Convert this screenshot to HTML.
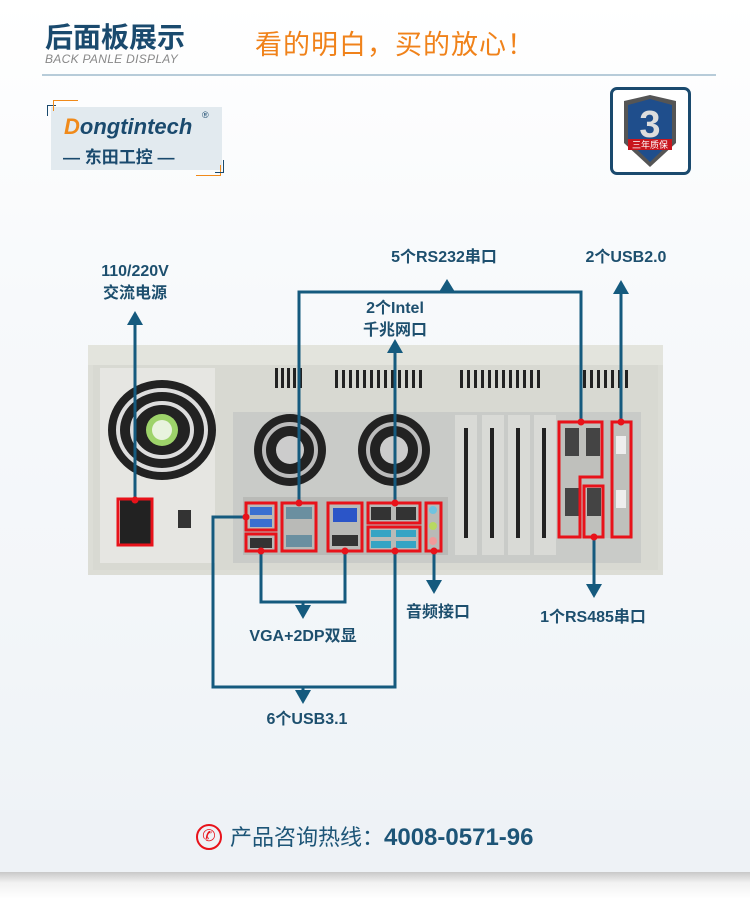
<!DOCTYPE html>
<html><head><meta charset="utf-8"><style>
html,body{margin:0;padding:0;}
body{width:750px;height:899px;position:relative;overflow:hidden;background:linear-gradient(#ffffff 0,#f7f9fb 300px,#f3f6f9 600px,#eef2f6 870px);font-family:"Liberation Sans","Noto Sans CJK SC",sans-serif;}
.a{position:absolute;}
.lbl{position:absolute;color:#1d4f6e;font-weight:bold;font-size:16px;line-height:22px;text-align:center;white-space:nowrap;}
</style></head><body>
<div class="a" style="left:45px;top:16px;font-size:28px;font-weight:bold;color:#1a4a6e;">后面板展示</div>
<div class="a" style="left:45px;top:52px;font-size:12px;font-style:italic;color:#888;letter-spacing:0.3px;">BACK PANLE DISPLAY</div>
<div class="a" style="left:255px;top:23px;font-size:27px;color:#f0821a;letter-spacing:1px;">看的明白，买的放心！</div>
<div class="a" style="left:42px;top:74px;width:674px;height:2px;background:#b7ccd9;"></div>

<!-- logo -->
<div class="a" style="left:51px;top:107px;width:171px;height:63px;background:#e2eaef;"></div>
<div class="a" style="left:47px;top:105px;width:8px;height:10px;border-left:1px solid #1a4a6e;border-top:1px solid #1a4a6e;"></div>
<div class="a" style="left:53px;top:100px;width:24px;height:10px;border-left:1px solid #f08a1a;border-top:1px solid #f08a1a;"></div>
<div class="a" style="left:196px;top:165px;width:24px;height:10px;border-right:1px solid #f08a1a;border-bottom:1px solid #f08a1a;"></div>
<div class="a" style="left:215px;top:160px;width:8px;height:12px;border-right:1px solid #1a4a6e;border-bottom:1px solid #1a4a6e;"></div>
<div class="a" style="left:64px;top:114px;font-size:22px;font-weight:bold;font-style:italic;color:#1a4a6e;"><span style="color:#f08a1a">D</span>ongtintech</div>
<div class="a" style="left:202px;top:110px;font-size:9px;color:#1a4a6e;">®</div>
<div class="a" style="left:63px;top:143px;font-size:17px;font-weight:bold;color:#1a4a6e;">— 东田工控 —</div>

<!-- badge -->
<div class="a" style="left:610px;top:87px;width:75px;height:82px;border:3px solid #1a4a6e;border-radius:7px;background:#fff;"></div>
<svg class="a" style="left:610px;top:87px" width="81" height="88">
<path d="M14 14 L40 8 L66 14 L66 56 L40 80 L14 56 Z" fill="#555"/>
<path d="M18 18 L40 12 L62 18 L62 54 L40 75 L18 54 Z" fill="#1f4e8c"/>
<text x="40" y="50" font-size="38" font-weight="bold" fill="#ddd" text-anchor="middle" font-family="Liberation Sans">3</text>
<rect x="18" y="52" width="44" height="11" fill="#c8161d"/>
<text x="40" y="61" font-size="9" fill="#fff" text-anchor="middle" font-family="Noto Sans CJK SC">三年质保</text>
</svg>

<!-- chassis -->
<svg class="a" style="left:0;top:0" width="750" height="899">
<rect x="88" y="345" width="575" height="230" fill="#dcddd6"/>
<rect x="88" y="345" width="575" height="20" fill="#e3e4dd"/>
<rect x="93" y="365" width="565" height="205" fill="#d8d9d2"/>
<!-- psu -->
<rect x="100" y="368" width="115" height="195" fill="#e6e6e2"/>
<ellipse cx="162" cy="430" rx="54" ry="50" fill="#222"/>
<ellipse cx="162" cy="430" rx="44" ry="40" fill="none" stroke="#ddd" stroke-width="4"/>
<ellipse cx="162" cy="430" rx="30" ry="27" fill="none" stroke="#ddd" stroke-width="4"/>
<circle cx="162" cy="430" r="16" fill="#9dd36a"/>
<circle cx="162" cy="430" r="10" fill="#e8f3de"/>
<rect x="120" y="500" width="32" height="44" fill="#222"/>
<rect x="178" y="510" width="13" height="18" fill="#333"/>
<!-- top vents -->
<g fill="#222">
<rect x="275" y="368" width="3" height="20"/><rect x="281" y="368" width="3" height="20"/><rect x="287" y="368" width="3" height="20"/><rect x="293" y="368" width="3" height="20"/><rect x="299" y="368" width="3" height="20"/>
<rect x="335" y="370" width="3" height="18"/><rect x="342" y="370" width="3" height="18"/><rect x="349" y="370" width="3" height="18"/><rect x="356" y="370" width="3" height="18"/><rect x="363" y="370" width="3" height="18"/><rect x="370" y="370" width="3" height="18"/><rect x="377" y="370" width="3" height="18"/><rect x="384" y="370" width="3" height="18"/><rect x="391" y="370" width="3" height="18"/><rect x="398" y="370" width="3" height="18"/><rect x="405" y="370" width="3" height="18"/><rect x="412" y="370" width="3" height="18"/><rect x="419" y="370" width="3" height="18"/>
<rect x="460" y="370" width="3" height="18"/><rect x="467" y="370" width="3" height="18"/><rect x="474" y="370" width="3" height="18"/><rect x="481" y="370" width="3" height="18"/><rect x="488" y="370" width="3" height="18"/><rect x="495" y="370" width="3" height="18"/><rect x="502" y="370" width="3" height="18"/><rect x="509" y="370" width="3" height="18"/><rect x="516" y="370" width="3" height="18"/><rect x="523" y="370" width="3" height="18"/><rect x="530" y="370" width="3" height="18"/><rect x="537" y="370" width="3" height="18"/>
<rect x="583" y="370" width="3" height="18"/><rect x="590" y="370" width="3" height="18"/><rect x="597" y="370" width="3" height="18"/><rect x="604" y="370" width="3" height="18"/><rect x="611" y="370" width="3" height="18"/><rect x="618" y="370" width="3" height="18"/><rect x="625" y="370" width="3" height="18"/>
</g>
<!-- inner panel -->
<rect x="233" y="412" width="408" height="151" fill="#c9cbc8"/>
<circle cx="290" cy="450" r="36" fill="#222"/><circle cx="290" cy="450" r="26" fill="none" stroke="#bbb" stroke-width="4"/><circle cx="290" cy="450" r="14" fill="#ccc"/>
<circle cx="394" cy="450" r="36" fill="#222"/><circle cx="394" cy="450" r="26" fill="none" stroke="#bbb" stroke-width="4"/><circle cx="394" cy="450" r="14" fill="#ccc"/>
<rect x="243" y="497" width="205" height="58" fill="#b9bab7"/>
<g fill="#d9dad6"><rect x="455" y="415" width="22" height="140"/><rect x="482" y="415" width="22" height="140"/><rect x="508" y="415" width="22" height="140"/><rect x="534" y="415" width="22" height="140"/></g>
<g fill="#222"><rect x="464" y="428" width="4" height="110"/><rect x="490" y="428" width="4" height="110"/><rect x="516" y="428" width="4" height="110"/><rect x="542" y="428" width="4" height="110"/></g>
<rect x="558" y="420" width="75" height="118" fill="#bfc0bc"/>
<!-- ports -->
<rect x="250" y="507" width="22" height="8" fill="#3a6fd0"/><rect x="250" y="519" width="22" height="8" fill="#3a6fd0"/>
<rect x="250" y="538" width="22" height="10" fill="#333"/>
<rect x="286" y="507" width="26" height="12" fill="#6a8fa0"/><rect x="286" y="535" width="26" height="12" fill="#6a8fa0"/>
<rect x="333" y="508" width="24" height="14" fill="#2b55c8"/><rect x="332" y="535" width="26" height="11" fill="#333"/>
<rect x="371" y="507" width="20" height="13" fill="#333"/><rect x="396" y="507" width="20" height="13" fill="#333"/>
<rect x="371" y="530" width="20" height="7" fill="#35a4c4"/><rect x="371" y="541" width="20" height="7" fill="#35a4c4"/><rect x="396" y="530" width="20" height="7" fill="#35a4c4"/><rect x="396" y="541" width="20" height="7" fill="#35a4c4"/>
<circle cx="433" cy="510" r="4" fill="#6fc3e0"/><circle cx="433" cy="526" r="4" fill="#b8d860"/><circle cx="433" cy="541" r="4" fill="#f09a9a"/>
<rect x="565" y="428" width="14" height="28" fill="#444"/><rect x="586" y="428" width="14" height="28" fill="#444"/><rect x="565" y="488" width="14" height="28" fill="#444"/><rect x="587" y="488" width="14" height="28" fill="#444"/>
<rect x="616" y="436" width="10" height="18" fill="#eee"/><rect x="616" y="490" width="10" height="18" fill="#eee"/>
<!-- red boxes -->
<g fill="none" stroke="#e8121a" stroke-width="3">
<rect x="118" y="499" width="34" height="46"/>
<rect x="246" y="503" width="30" height="27"/>
<rect x="246" y="534" width="30" height="17"/>
<rect x="282" y="503" width="34" height="48"/>
<rect x="328" y="503" width="34" height="48"/>
<rect x="368" y="503" width="52" height="20"/>
<rect x="368" y="527" width="52" height="24"/>
<rect x="426" y="503" width="15" height="48"/>
<path d="M559 422 H602 V477 H580 V537 H559 Z"/>
<rect x="584" y="486" width="19" height="51"/>
<rect x="612" y="422" width="19" height="115"/>
</g>
<!-- connectors -->
<g fill="none" stroke="#155a7e" stroke-width="3">
<path d="M135 500 V322"/>
<path d="M299 503 V292 H581 V422"/>
<path d="M447 292 V286"/>
<path d="M621 422 V292"/>
<path d="M395 503 V350"/>
<path d="M434 551 V585"/>
<path d="M594 537 V590"/>
<path d="M261 551 V602 H345 V551"/>
<path d="M303 602 V612"/>
<path d="M246 517 H213 V687 H395 V551"/>
<path d="M303 687 V697"/>
</g>
<g fill="#155a7e">
<polygon points="135,311 127,325 143,325"/>
<polygon points="447,279 439,292 455,292"/>
<polygon points="621,280 613,294 629,294"/>
<polygon points="395,339 387,353 403,353"/>
<polygon points="434,594 426,580 442,580"/>
<polygon points="594,598 586,584 602,584"/>
<polygon points="303,619 295,605 311,605"/>
<polygon points="303,704 295,690 311,690"/>
</g>
<g fill="#e8121a">
<circle cx="135" cy="500" r="3.5"/><circle cx="299" cy="503" r="3.5"/><circle cx="581" cy="422" r="3.5"/><circle cx="621" cy="422" r="3.5"/><circle cx="395" cy="503" r="3.5"/><circle cx="434" cy="551" r="3.5"/><circle cx="594" cy="537" r="3.5"/><circle cx="261" cy="551" r="3.5"/><circle cx="345" cy="551" r="3.5"/><circle cx="246" cy="517" r="3.5"/><circle cx="395" cy="551" r="3.5"/>
</g>
</svg>

<div class="lbl" style="left:85px;top:261px;width:100px;">110/220V<br>交流电源</div>
<div class="lbl" style="left:379px;top:247px;width:130px;">5个RS232串口</div>
<div class="lbl" style="left:566px;top:247px;width:120px;">2个USB2.0</div>
<div class="lbl" style="left:345px;top:298px;width:100px;">2个Intel<br>千兆网口</div>
<div class="lbl" style="left:388px;top:602px;width:100px;">音频接口</div>
<div class="lbl" style="left:518px;top:607px;width:150px;">1个RS485串口</div>
<div class="lbl" style="left:233px;top:626px;width:140px;">VGA+2DP双显</div>
<div class="lbl" style="left:247px;top:709px;width:120px;">6个USB3.1</div>

<!-- footer -->
<div class="a" style="left:0;top:810px;width:750px;height:62px;background:#eef2f6;"></div>
<div class="a" style="left:0;top:872px;width:750px;height:27px;background:linear-gradient(#c8c8c8,#f2f2f2 40%,#ffffff);"></div>
<div class="a" style="left:196px;top:824px;width:26px;height:26px;border:2px solid #e8121a;border-radius:50%;box-sizing:border-box;color:#e8121a;font-size:16px;line-height:22px;text-align:center;">✆</div>
<div class="a" style="left:230px;top:820px;font-size:22px;color:#1d5577;white-space:nowrap;">产品咨询热线：<b style="font-size:24px;">4008-0571-96</b></div>
</body></html>
